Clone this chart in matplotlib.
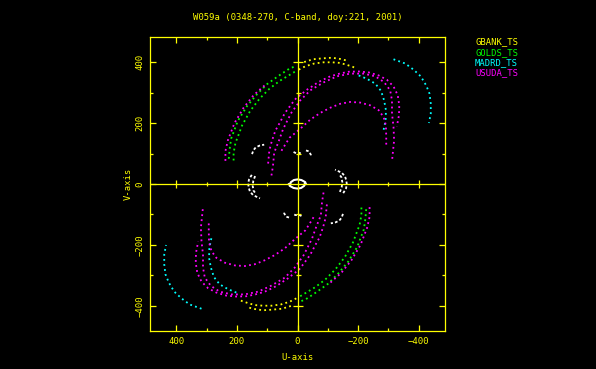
import numpy as np
from matplotlib import pyplot as plt

# (u, v) points of the upper half of each track;
# the lower half is the conjugate (-u, -v)
gbank_outer = [(-22, 400), (-51, 409), (-83, 412), (-114, 414), (-141, 410), (-166, 404)]
gbank_inner = [(-4, 375), (-26, 386), (-55, 395), (-86, 399), (-114, 399), (-141, 397),
               (-165, 390), (-183, 384), (-196, 377)]

golds_a = [(13, 384), (32, 375), (65, 353), (101, 327), (134, 294), (167, 255),
           (197, 207), (219, 149), (224, 115), (227, 81)]
golds_b = [(9, 368), (59, 338), (92, 313), (125, 280), (156, 240), (183, 192),
           (205, 134), (211, 102), (211, 69)]

madrd_outer = [(-317, 409), (-356, 395), (-383, 375), (-407, 353), (-425, 323),
               (-436, 296), (-440, 263), (-440, 231), (-434, 200)]
madrd_inner = [(-202, 356), (-229, 345), (-257, 329), (-276, 305), (-286, 274),
               (-292, 242), (-291, 209), (-284, 176)]

usuda_a = [(97, 67), (93, 110), (85, 140), (73, 175), (59, 200), (42, 232), (20, 262),
           (4, 282), (-15, 296), (-31, 309), (-48, 320), (-64, 331), (-80, 340),
           (-108, 353), (-139, 362), (-168, 368), (-202, 369), (-235, 366), (-268, 356),
           (-295, 342), (-317, 320), (-331, 291), (-336, 258), (-335, 225), (-328, 189)]
usuda_b = [(86, 28), (81, 59), (77, 103), (62, 140), (48, 179), (35, 205), (20, 234),
           (4, 256), (-9, 274), (-42, 307), (-86, 333), (-130, 353), (-174, 362),
           (-218, 362), (-257, 353), (-286, 334), (-306, 307), (-312, 274), (-312, 231),
           (-317, 187), (-319, 143), (-315, 105), (-312, 75)]
usuda_c = [(53, 109), (40, 130), (26, 152), (9, 166), (-9, 181), (-42, 211), (-75, 233),
           (-108, 250), (-141, 263), (-174, 269), (-207, 267), (-240, 258), (-268, 242),
           (-284, 220), (-292, 192), (-293, 154), (-293, 119)]
usuda_d = [(109, 323), (145, 291), (178, 250), (208, 200), (230, 143), (238, 108), (238, 75)]

ground_1 = [(150, 98), (146, 110), (138, 120), (125, 126), (110, 129)]
ground_2 = [(13, 105), (5, 101), (-6, 102), (-17, 98)]
ground_3 = [(-28, 110), (-38, 107), (-44, 96), (-45, 87)]
ground_4 = [(151, 30), (160, 15), (163, 2), (161, -12), (157, -25), (147, -36),
            (135, -42), (124, -47)]
ground_5 = [(140, 26), (146, 10), (148, -6), (145, -22), (137, -33)]
ground_ring = [(25, -5), (22, 6), (12, 13), (0, 15), (-13, 13), (-24, 7), (-28, 0)]

stations = ['GBANK_TS', 'GOLDS_TS', 'MADRD_TS', 'USUDA_TS']
colors = ['#ffff00', '#00ff00', '#00ffff', '#ff00ff']
tracks = [[gbank_outer, gbank_inner], [golds_a, golds_b],
          [madrd_outer, madrd_inner], [usuda_a, usuda_b, usuda_c, usuda_d]]

title = 'W059a (0348-270, C-band, doy:221, 2001)'
ticks_major = [-400, -200, 200, 400]
ticks_minor = [-300, -100, 100, 300]

plt.rcParams['font.family'] = ['DejaVu Sans Mono']
fs = 6.4
Y = '#ffff00'

fig = plt.figure(figsize=(5.96, 3.69), dpi=100, facecolor='black')
ax = fig.add_axes([150 / 596, 38 / 369, 295 / 596, 294 / 369])
ax.set_facecolor('black')


def draw(track, color, lw=1.3, dash=(0, (1, 1.8))):
    t = np.array(track, dtype=float)
    for s in (1, -1):
        ax.plot(s * t[:, 0], s * t[:, 1], color=color, lw=lw, ls=dash)


for group, c in zip(tracks, colors):
    for tr in group:
        draw(tr, c)

for tr in [ground_1, ground_2, ground_3, ground_4, ground_5]:
    draw(tr, 'white', lw=1.3, dash=(0, (1.5, 1.2)))
draw(ground_ring, 'white', lw=1.5, dash='-')

ax.axhline(0, color=Y, lw=0.9)
ax.axvline(0, color=Y, lw=0.9)
ax.plot(ticks_major, [0] * 4, ls='none', marker='|', ms=5.3, mew=0.9, color=Y)
ax.plot(ticks_minor, [0] * 4, ls='none', marker='|', ms=3.4, mew=0.9, color=Y)
ax.plot([0] * 4, ticks_major, ls='none', marker='_', ms=7.2, mew=0.9, color=Y)
ax.plot([0] * 4, ticks_minor, ls='none', marker='_', ms=3.6, mew=0.9, color=Y)

ax.set_xlim(487, -487)
ax.set_ylim(-482, 482)
ax.set_xticks([-400, -200, 0, 200, 400])
ax.set_yticks([-400, -200, 0, 200, 400])
ax.set_xticks(ticks_minor, minor=True)
ax.set_yticks(ticks_minor, minor=True)
ax.tick_params(which='both', direction='in', top=True, right=True, colors=Y,
               labelsize=fs, width=0.9)
ax.tick_params(which='major', length=4, pad=4)
ax.tick_params(which='minor', length=2.5)
plt.setp(ax.get_yticklabels(), rotation=90, va='center', ha='right')
for sp in ax.spines.values():
    sp.set_color(Y)
    sp.set_linewidth(0.9)

fig.text(298 / 596, 1 - 17 / 369, title, color=Y, fontsize=fs, ha='center', va='center')
fig.text(298 / 596, 1 - 358 / 369, 'U-axis', color=Y, fontsize=fs, ha='center', va='center')
fig.text(128.5 / 596, 1 - 184 / 369, 'V-axis', color=Y, fontsize=fs, ha='center',
         va='center', rotation=90)
for i, (name, c) in enumerate(zip(stations, colors)):
    fig.text(475 / 596, 1 - (42 + 10.3 * i) / 369, name, color=c, fontsize=fs,
             ha='left', va='center')

fig.savefig('out.png', dpi=100, facecolor='black')
